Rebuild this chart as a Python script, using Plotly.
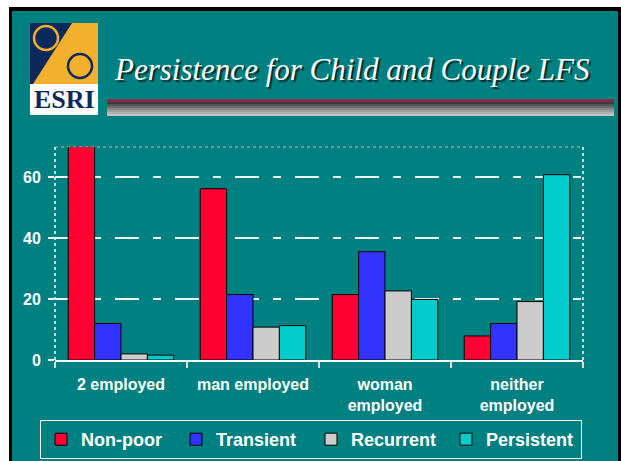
import plotly.graph_objects as go

# ---------------- data ----------------
categories = ["2 employed", "man employed", "woman employed", "neither employed"]
tick_labels = ["2 employed", "man employed", "woman<br>employed", "neither<br>employed"]
series_names = ["Non-poor", "Transient", "Recurrent", "Persistent"]
non_poor = [71.0, 56.3, 21.5, 7.9]
transient = [12.0, 21.5, 35.6, 12.0]
recurrent = [2.0, 10.8, 22.7, 19.2]
persistent = [1.6, 11.3, 19.9, 60.9]
y_ticks = [0, 20, 40, 60]
title_text = "Persistence for Child and Couple LFS"

series_values = [non_poor, transient, recurrent, persistent]
series_colors = ["#FF0033", "#3333FF", "#CCCCCC", "#00CCCC"]

# ---------------- geometry ----------------
W, H = 621, 461
ML, MR, MT, MB = 55, 38, 147, 101
PW, PH = W - ML - MR, H - MT - MB
TEAL = "#008080"
FONT = "Liberation Sans, Arial, sans-serif"


def px(x):
    return (x - ML) / PW


def py(y):
    return (H - MB - y) / PH


def rect(x0, y0, x1, y1, color, layer="below"):
    return dict(type="rect", xref="paper", yref="paper",
                x0=px(x0), x1=px(x1), y0=py(y1), y1=py(y0),
                fillcolor=color, layer=layer, line=dict(width=0))


fig = go.Figure()
for name, vals, col in zip(series_names, series_values, series_colors):
    fig.add_trace(go.Bar(
        x=categories, y=vals, name=name,
        marker=dict(color=col, line=dict(color="#000000", width=1)),
        cliponaxis=False,
    ))

shapes = []
# frame
shapes.append(rect(9, 7, 621, 461, "#000000"))
shapes.append(rect(12, 11, 618, 461, TEAL))
# logo
shapes.append(rect(30, 23, 98, 84, "#0B2A5B"))
shapes.append(dict(type="path", xref="paper", yref="paper", layer="below",
                   path="M {},{} L {},{} L {},{} L {},{} Z".format(
                       px(72), py(23), px(98), py(23), px(98), py(84), px(33), py(84)),
                   fillcolor="#F2B02E", line=dict(width=0)))
shapes.append(rect(30, 84, 98, 115, "#FFFFFF"))


def circle(cx, cy, r, color, w=2.5):
    return dict(type="circle", xref="paper", yref="paper", layer="below",
                x0=px(cx - r), x1=px(cx + r), y0=py(cy + r), y1=py(cy - r),
                line=dict(color=color, width=w))


shapes.append(circle(46, 38, 12, "#F2B02E"))
shapes.append(circle(80, 66, 12, "#0B2A5B"))
# red line and grey gradient bar under the title
shapes.append(dict(type="line", xref="paper", yref="paper", layer="below",
                   x0=px(107), x1=px(614), y0=py(100.5), y1=py(100.5),
                   line=dict(color="#CC0033", width=2)))
greys = ["#3a3a3a", "#555555", "#6e6e6e", "#878787", "#9e9e9e", "#b2b2b2", "#c4c4c4"]
for i, g in enumerate(greys):
    shapes.append(rect(107, 102 + 2 * i, 614, 104 + 2 * i, g))
# plot border (dotted) and y axis line
shapes.append(dict(type="line", xref="paper", yref="paper", layer="below",
                   x0=0, x1=1, y0=1, y1=1, line=dict(color="#BBBBBB", width=1, dash="dot")))
shapes.append(dict(type="line", xref="paper", yref="paper", layer="below",
                   x0=1, x1=1, y0=0, y1=1, line=dict(color="#FFFFFF", width=1.5, dash="dot")))
shapes.append(dict(type="line", xref="paper", yref="paper", layer="above",
                   x0=0, x1=0, y0=0, y1=1, line=dict(color="#FFFFFF", width=1.5, dash="dot")))

annotations = []
annotations.append(dict(xref="paper", yref="paper", x=px(64), y=py(100), text="<b>ESRI</b>",
                        showarrow=False, xanchor="center", yanchor="middle",
                        font=dict(family="Liberation Serif, Times New Roman, serif", size=26,
                                  color="#0B2A5B")))
# title with drop shadow
annotations.append(dict(xref="paper", yref="paper", x=px(351), y=py(69),
                        text="<i>" + title_text + "</i>", showarrow=False,
                        xanchor="center", yanchor="middle",
                        font=dict(family="Liberation Serif, Times New Roman, serif",
                                  size=31, color="#FFFFFF",
                                  shadow="2px 2px 1px #0a2a2a")))

fig.update_layout(
    width=W, height=H,
    margin=dict(l=ML, r=MR, t=MT, b=MB, pad=0, autoexpand=False),
    paper_bgcolor="#FFFFFF", plot_bgcolor="rgba(0,0,0,0)",
    barmode="group", bargap=0.2, bargroupgap=0,
    shapes=shapes, annotations=annotations,
    showlegend=True,
    legend=dict(orientation="h", x=px(40), xanchor="left", y=py(439.5), yanchor="middle",
                bgcolor=TEAL, bordercolor="#FFFFFF", borderwidth=1,
                font=dict(family=FONT, size=18, color="#FFFFFF", weight="bold"),
                entrywidth=90, entrywidthmode="pixels", itemwidth=30,
                traceorder="normal"),
    xaxis=dict(type="category", categoryorder="array", categoryarray=categories,
               tickmode="array", tickvals=categories, ticktext=tick_labels,
               tickson="boundaries", ticks="outside", ticklen=6, tickwidth=1.5,
               tickcolor="#DDDDDD", showline=True, linecolor="#FFFFFF", linewidth=2,
               showgrid=False, ticklabelstandoff=9, automargin=False,
               tickfont=dict(family=FONT, size=16, color="#FFFFFF", weight="bold")),
    yaxis=dict(range=[0, 70], tickmode="array", tickvals=y_ticks,
               ticks="outside", ticklen=6, tickwidth=1.5, tickcolor="#FFFFFF",
               showline=False, zeroline=False, automargin=False,
               showgrid=True, gridcolor="rgba(255,255,255,0.92)", gridwidth=1.5,
               griddash="24px,14px,8px,14px", ticklabelstandoff=4,
               tickfont=dict(family=FONT, size=16, color="#FFFFFF", weight="bold")),
)

fig.write_html(
    "out.html",
    config={"displayModeBar": False},
    post_script="document.body.style.margin='0';"
                "document.body.style.overflow='hidden';"
                "document.documentElement.style.overflow='hidden';",
)
